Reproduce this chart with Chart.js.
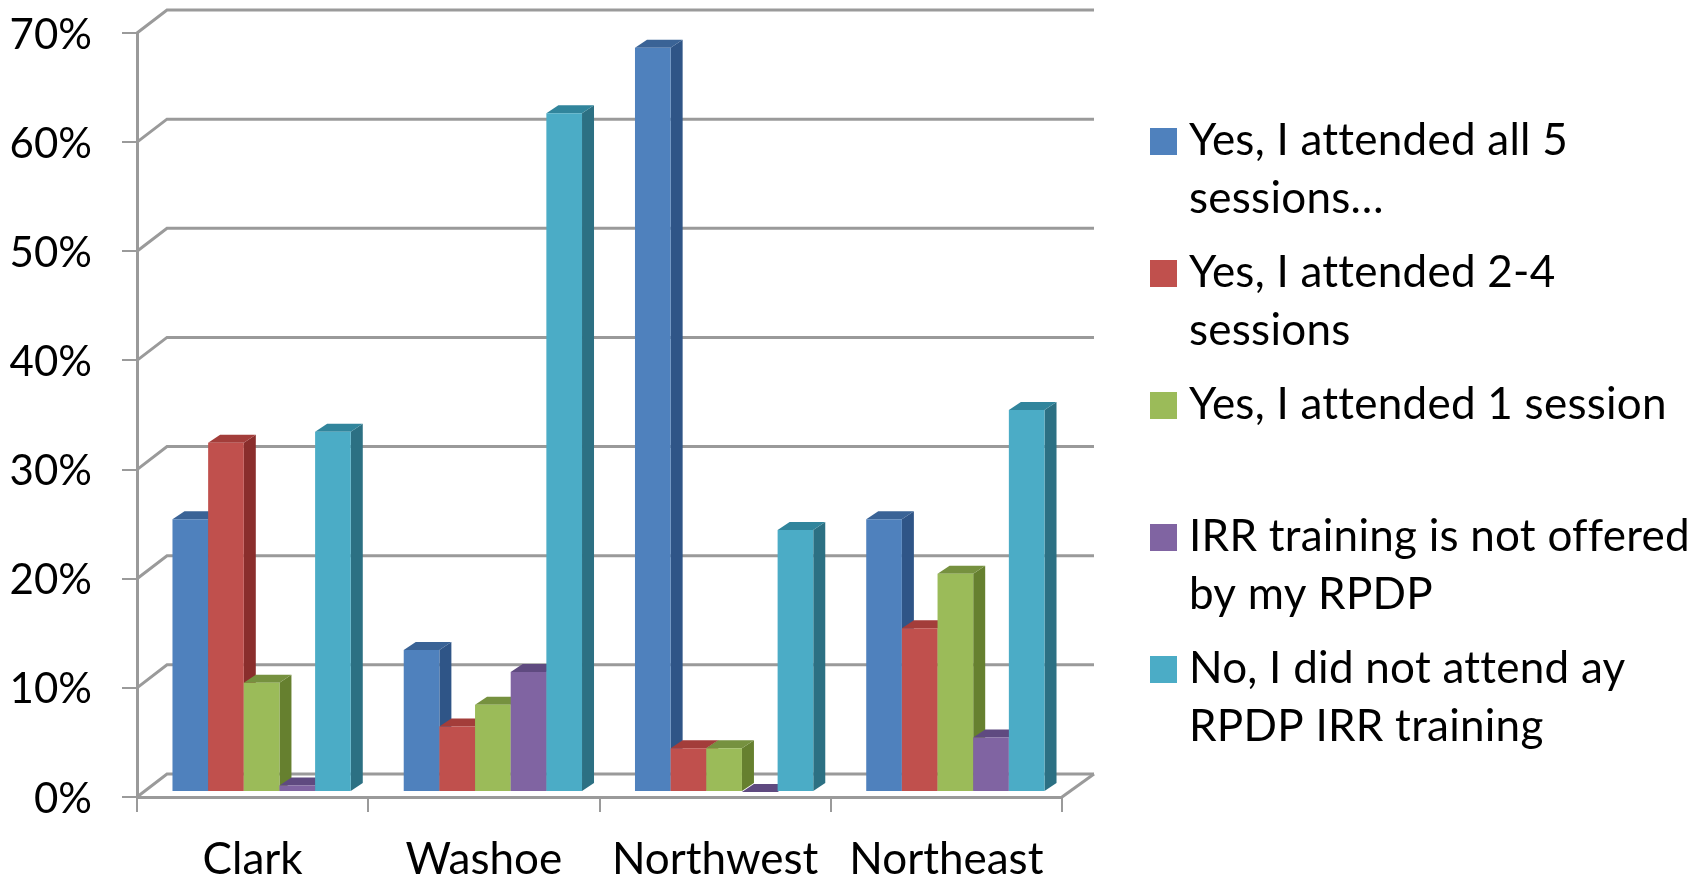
<!DOCTYPE html>
<html>
<head>
<meta charset="utf-8">
<title>RPDP IRR training attendance</title>
<style>
  html, body { margin: 0; padding: 0; background: #fff; }
  #wrap { width: 1703px; height: 879px; }
</style>
<script src="https://cdn.jsdelivr.net/npm/chart.js@4/dist/chart.umd.js"></script>
</head>
<body>
<div id="wrap"><canvas id="chart" width="1703" height="879"></canvas></div>
<script>
const categories = ["Clark", "Washoe", "Northwest", "Northeast"];
const attendedAll = [25, 13, 68.2, 25];
const attended2to4 = [32, 6, 4, 15];
const attended1 = [10, 8, 4, 20];
const notOffered = [0.6, 11, 0, 5];
const didNotAttend = [33, 62.2, 24, 35];
const seriesNames = [
  ["Yes, I attended all 5", "sessions…"],
  ["Yes, I attended 2-4", "sessions"],
  ["Yes, I attended 1 session"],
  ["IRR training is not offered", "by my RPDP"],
  ["No, I did not attend ay", "RPDP IRR training"],
];
const frontColors = ["#4F81BD", "#C0504D", "#9BBB59", "#8064A2", "#4BACC6"];
const topColors = ["#3A6396", "#A33D3A", "#76913F", "#5F4A80", "#31859C"];
const sideColors = ["#2F5587", "#8A2E2C", "#66802F", "#553E78", "#2C7083"];
const yTicks = [0, 10, 20, 30, 40, 50, 60, 70];

const FONT = "Lato";
const GRID = "#9A9A9A";
// depth of the back wall, and where the bars stand inside it
const WALL_DX = 30, WALL_DY = 23;
const BAR_DX = 9, BAR_DY = 5;
const SIDE_DX = 12, SIDE_DY = 8;

const wallPlugin = {
  id: "wall",
  beforeDatasetsDraw(chart) {
    const { ctx, scales: { x, y } } = chart;
    ctx.save();
    ctx.strokeStyle = GRID;
    ctx.lineWidth = 3;
    yTicks.forEach((t) => {
      const py = y.getPixelForValue(t);
      ctx.beginPath();
      ctx.moveTo(x.left, py);
      ctx.lineTo(x.left + WALL_DX, py - WALL_DY);
      ctx.lineTo(x.right + WALL_DX + 2, py - WALL_DY);
      ctx.stroke();
    });
    // right edge of the floor
    const py0 = y.getPixelForValue(0);
    ctx.beginPath();
    ctx.moveTo(x.right, py0);
    ctx.lineTo(x.right + WALL_DX + 2, py0 - WALL_DY);
    ctx.stroke();
    ctx.restore();
  },
};

// Chart.js paints the last dataset first, but here each series has to cover
// the side of the one before it, so the bars are painted in series order
const bar3dPlugin = {
  id: "bar3d",
  beforeDatasetsDraw(chart) {
    const { ctx } = chart;
    ctx.save();
    ctx.translate(BAR_DX, -BAR_DY);
    chart.data.datasets.forEach((ds, i) => {
      chart.getDatasetMeta(i).data.forEach((bar) => {
        const { x, y, base, width } = bar.getProps(["x", "y", "base", "width"], true);
        const l = x - width / 2, r = x + width / 2;
        ctx.fillStyle = sideColors[i];
        ctx.beginPath();
        ctx.moveTo(r, y);
        ctx.lineTo(r + SIDE_DX, y - SIDE_DY);
        ctx.lineTo(r + SIDE_DX, base - SIDE_DY);
        ctx.lineTo(r, base);
        ctx.closePath();
        ctx.fill();
        ctx.fillStyle = topColors[i];
        ctx.beginPath();
        ctx.moveTo(l, y);
        ctx.lineTo(l + SIDE_DX, y - SIDE_DY);
        ctx.lineTo(r + SIDE_DX, y - SIDE_DY);
        ctx.lineTo(r, y);
        ctx.closePath();
        ctx.fill();
        bar.draw(ctx);
      });
    });
    ctx.restore();
  },
  beforeDatasetDraw() {
    return false;
  },
};

// the legend wraps its text, so it is drawn here instead of by the library
const legendPlugin = {
  id: "wrappedLegend",
  afterDraw(chart) {
    const { ctx } = chart;
    ctx.save();
    ctx.font = "44px " + FONT;
    ctx.letterSpacing = "0.25px";
    ctx.textBaseline = "alphabetic";
    ctx.textAlign = "left";
    seriesNames.forEach((lines, i) => {
      const top = 128 + i * 132;
      ctx.fillStyle = frontColors[i];
      ctx.fillRect(1150, top, 27, 27);
      ctx.fillStyle = "#000";
      lines.forEach((line, j) => {
        ctx.fillText(line, 1189, top + 27 + j * 58);
      });
    });
    ctx.restore();
  },
};

Chart.defaults.font.family = FONT;
Chart.defaults.color = "#000";

new Chart(document.getElementById("chart"), {
  type: "bar",
  data: {
    labels: categories,
    datasets: [attendedAll, attended2to4, attended1, notOffered, didNotAttend].map((values, i) => ({
      label: seriesNames[i].join(" "),
      data: values,
      backgroundColor: frontColors[i],
      borderWidth: 0,
    })),
  },
  options: {
    responsive: false,
    animation: false,
    layout: { padding: { left: 0, top: 33, right: 641, bottom: 0 } },
    categoryPercentage: 0.771,
    barPercentage: 1,
    plugins: { legend: { display: false }, tooltip: { enabled: false } },
    scales: {
      x: {
        afterFit: (s) => { s.height = 82; s.paddingLeft = 0; s.paddingRight = 0; },
        grid: { drawOnChartArea: false, color: GRID, lineWidth: 2, tickLength: 15 },
        border: { color: GRID, width: 3 },
        ticks: { font: { size: 44 }, padding: 21, maxRotation: 0, autoSkip: false },
      },
      y: {
        min: 0,
        max: 70,
        afterFit: (s) => { s.width = 137; s.paddingTop = 0; s.paddingBottom = 0; },
        grid: { drawOnChartArea: false, color: GRID, lineWidth: 2, tickLength: 15 },
        border: { color: GRID, width: 3 },
        ticks: { font: { size: 42 }, padding: 30, labelOffset: 2, stepSize: 10, callback: (v) => v + "%" },
      },
    },
  },
  plugins: [wallPlugin, bar3dPlugin, legendPlugin],
});
</script>
</body>
</html>
